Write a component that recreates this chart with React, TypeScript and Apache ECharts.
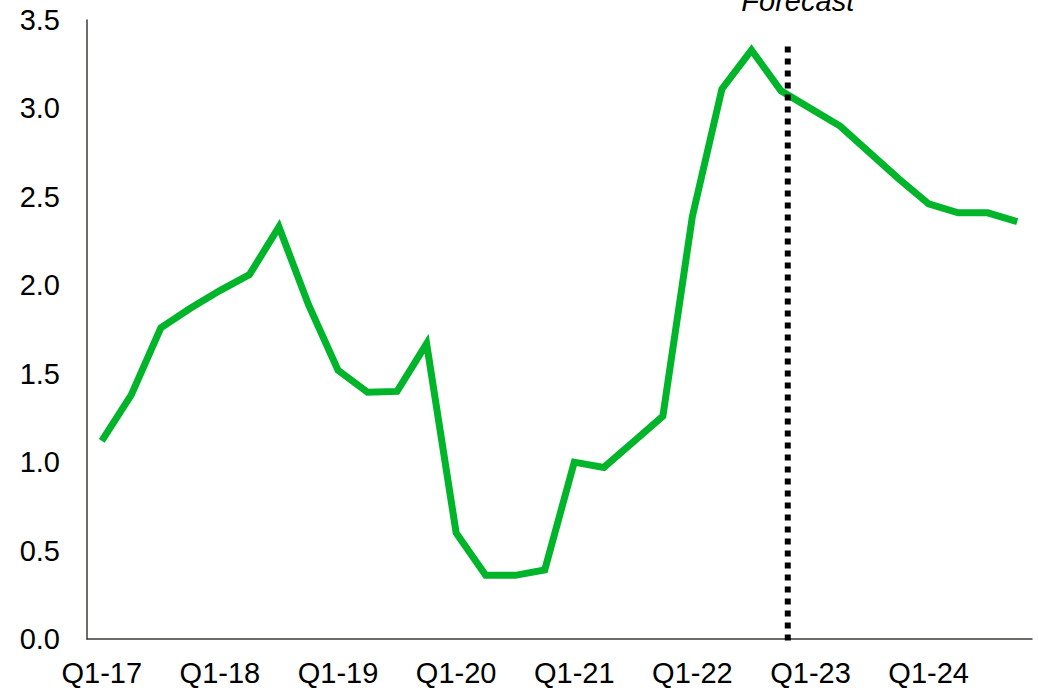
import React, { useEffect, useRef } from "react";
import * as echarts from "echarts";

const quarters: string[] = [];
const years = ["17", "18", "19", "20", "21", "22", "23", "24"];
for (const y of years) for (const q of ["Q1", "Q2", "Q3", "Q4"]) quarters.push(`${q}-${y}`);

const values: number[] = [
  1.12, 1.38, 1.76, 1.87, 1.97, 2.06, 2.33, 1.89,
  1.52, 1.395, 1.40, 1.67, 0.60, 0.36, 0.36, 0.39,
  1.00, 0.97, 1.115, 1.26, 2.39, 3.11, 3.33, 3.10,
  3.00, 2.90, 2.75, 2.60, 2.46, 2.41, 2.41, 2.36,
];

const yTicks = { min: 0, max: 3.5, interval: 0.5 };
const forecastLabel = "Forecast";
const forecastPos = 23.23; // category position of the forecast divider
const forecastTop = 3.35; // value where the divider starts

const FONT = "'Liberation Sans', Arial, sans-serif";

export default function App() {
  const ref = useRef<HTMLDivElement>(null);
  useEffect(() => {
    if (!ref.current) return;
    const chart = echarts.init(ref.current, null, { renderer: "svg" });
    chart.setOption({
      animation: false,
      backgroundColor: "#ffffff",
      grid: { left: 87, right: 6, top: 20, bottom: 54, containLabel: false },
      xAxis: {
        type: "category",
        data: quarters,
        boundaryGap: true,
        axisLine: { show: true, lineStyle: { color: "#3d3d35", width: 1.5 } },
        axisTick: { show: false },
        axisLabel: {
          interval: 3,
          margin: 19,
          color: "#000",
          fontSize: 29,
          fontFamily: FONT,
        },
        splitLine: { show: false },
      },
      yAxis: {
        type: "value",
        min: yTicks.min,
        max: yTicks.max,
        interval: yTicks.interval,
        axisLine: { show: true, lineStyle: { color: "#3d3d35", width: 1.5 } },
        axisTick: { show: false },
        splitLine: { show: false },
        axisLabel: {
          margin: 27,
          color: "#000",
          fontSize: 29,
          fontFamily: FONT,
          formatter: (v: number) => v.toFixed(1),
        },
      },
      series: [
        {
          type: "line",
          data: values,
          symbol: "none",
          lineStyle: { color: "#00B52A", width: 7, join: "miter" },
          z: 3,
        },
      ],
    });

    const x0 = chart.convertToPixel({ xAxisIndex: 0 }, Math.floor(forecastPos)) as number;
    const x1 = chart.convertToPixel({ xAxisIndex: 0 }, Math.floor(forecastPos) + 1) as number;
    const fx = x0 + (x1 - x0) * (forecastPos - Math.floor(forecastPos));
    const yTop = chart.convertToPixel({ yAxisIndex: 0 }, forecastTop) as number;
    const yBottom = (chart.convertToPixel({ yAxisIndex: 0 }, 0) as number) + 5;

    chart.setOption({
      graphic: [
        {
          type: "line",
          shape: { x1: fx, y1: yTop, x2: fx, y2: yBottom },
          style: { stroke: "#000", lineWidth: 6, lineDash: [6, 6] },
          z: 10,
        },
        {
          type: "text",
          x: fx + 10,
          y: 15,
          style: {
            text: forecastLabel,
            fill: "#000",
            fontSize: 29,
            fontStyle: "italic",
            fontFamily: FONT,
            textAlign: "center",
            textVerticalAlign: "bottom",
          },
        },
      ],
    });

    return () => chart.dispose();
  }, []);
  return <div ref={ref} style={{ width: 1038, height: 693, position: "absolute", left: 0, top: 0 }} />;
}
